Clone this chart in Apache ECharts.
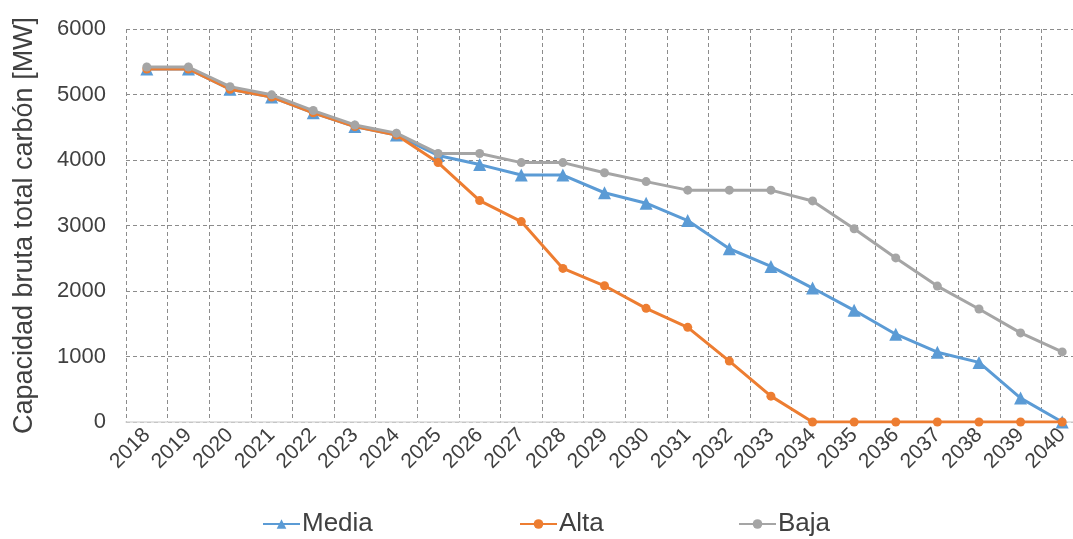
<!DOCTYPE html>
<html>
<head>
<meta charset="utf-8">
<script src="https://cdn.jsdelivr.net/npm/echarts@6/dist/echarts.min.js"></script>
<style>
html,body{margin:0;padding:0;background:#fff;overflow:hidden;width:1073px;height:539px;}
#c{width:1083px;height:539px;}
</style>
</head>
<body>
<div id="c"></div>
<script>
var years = ['2018','2019','2020','2021','2022','2023','2024','2025','2026','2027','2028','2029','2030','2031','2032','2033','2034','2035','2036','2037','2038','2039','2040'];
var media = [5390,5390,5080,4960,4720,4510,4380,4070,3930,3770,3770,3500,3340,3075,2645,2375,2045,1705,1340,1065,910,365,0];
var alta  = [5390,5390,5080,4960,4720,4510,4380,3960,3380,3060,2345,2080,1735,1445,930,395,0,0,0,0,0,0,0];
var baja  = [5420,5420,5120,4995,4755,4535,4410,4100,4100,3960,3960,3805,3670,3540,3540,3540,3375,2950,2505,2075,1725,1360,1070];
var yTicks = [0,1000,2000,3000,4000,5000,6000];
var yName = 'Capacidad bruta total carbón [MW]';
var seriesNames = ['Media','Alta','Baja'];

var txt = '#404040';
var font = 'Liberation Sans';
var legendLeft = [262, 519, 738];
var chart = echarts.init(document.getElementById('c'), null, {renderer:'canvas'});
chart.setOption({
  animation:false,
  backgroundColor:'#fff',
  textStyle:{fontFamily:font},
  grid:{left:126, top:29, width:957, height:393, containLabel:false},
  legend: seriesNames.map(function(n, i){
    return {
      top:511, left:legendLeft[i], padding:0, itemWidth:37, itemHeight:12, itemGap:0,
      textStyle:{color:txt, fontSize:26, fontFamily:font, padding:[0,0,0,-3]},
      data:[n]
    };
  }),
  xAxis:{
    type:'category', data:years, boundaryGap:true,
    axisLine:{show:true, lineStyle:{color:'#d9d9d9', width:1.5}},
    axisTick:{show:false},
    axisLabel:{rotate:45, color:txt, fontSize:21, fontFamily:font, margin:10, interval:0},
    splitLine:{show:true, interval:0, lineStyle:{color:'#8c8c8c', type:[4,3], width:1}}
  },
  yAxis:{
    type:'value', min:yTicks[0], max:yTicks[yTicks.length-1], interval:1000,
    name:yName, nameLocation:'middle', nameGap:88,
    nameTextStyle:{color:txt, fontSize:27, fontFamily:font},
    axisLine:{show:false}, axisTick:{show:false},
    axisLabel:{color:txt, fontSize:22, fontFamily:font, margin:20, formatter:function(v){return String(v);}},
    splitLine:{show:true, lineStyle:{color:'#8c8c8c', type:[4,3], width:1}}
  },
  series:[
    {name:'Media', type:'line', data:media, symbol:'triangle', symbolSize:13,
     itemStyle:{color:'#5B9BD5'}, lineStyle:{width:3, color:'#5B9BD5'}, z:2},
    {name:'Alta', type:'line', data:alta, symbol:'circle', symbolSize:9,
     itemStyle:{color:'#ED7D31'}, lineStyle:{width:3, color:'#ED7D31'}, z:3},
    {name:'Baja', type:'line', data:baja, symbol:'circle', symbolSize:9,
     itemStyle:{color:'#A5A5A5'}, lineStyle:{width:3, color:'#A5A5A5'}, z:4}
  ]
});
</script>
</body>
</html>
